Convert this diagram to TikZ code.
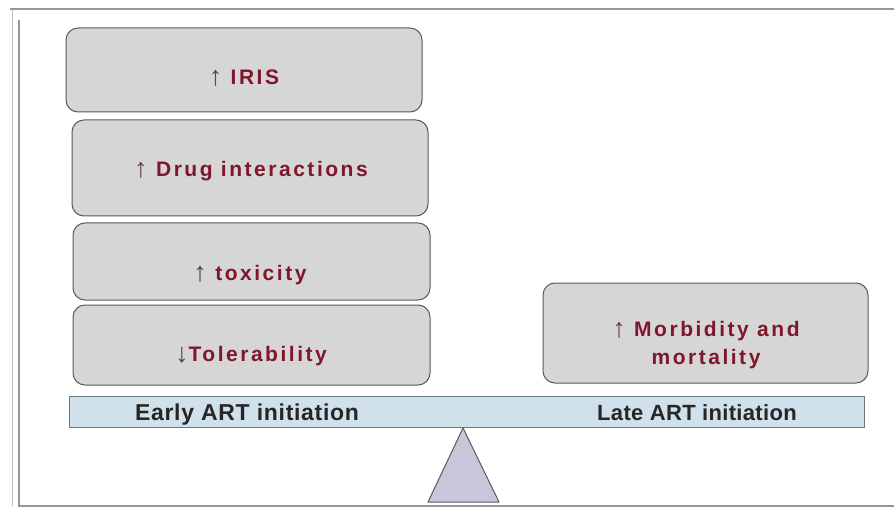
\documentclass[tikz,border=0pt]{standalone}
\usepackage{fontspec}
\setmainfont{Liberation Sans}
\newfontfamily\arrowfont{Liberation Sans}
\definecolor{txtred}{RGB}{128,22,44}
\definecolor{arrowcol}{RGB}{100,60,68}
\definecolor{boxfill}{RGB}{214,214,214}
\definecolor{boxline}{RGB}{90,90,90}
\definecolor{beamfill}{RGB}{208,225,236}
\definecolor{beamline}{RGB}{105,118,128}
\definecolor{fulcfill}{RGB}{203,197,219}
\definecolor{frameline}{RGB}{150,150,150}
\tikzset{
  gbox/.style={draw=boxline, line width=1pt, fill=boxfill, rounded corners=12pt, inner sep=0pt, rectangle},
  btxt/.style={text=txtred, font=\fontsize{21}{28}\selectfont\bfseries\addfontfeature{LetterSpace=12}, inner sep=0pt},
  beamtxt/.style={text=black!85, font=\fontsize{23}{26}\selectfont\bfseries\addfontfeature{LetterSpace=3}, inner sep=0pt, anchor=base},
}
\newcommand{\upar}{{\color{arrowcol}\arrowfont\mdseries\fontsize{27}{28}\selectfont\raisebox{-1pt}{↑}}}
\newcommand{\dnar}{{\color{arrowcol}\arrowfont\mdseries\fontsize{27}{28}\selectfont\raisebox{-1pt}{↓}}}
\begin{document}
\begin{tikzpicture}[x=1pt,y=-1pt]
\useasboundingbox (0,0) rectangle (894,513);
\fill[white] (0,0) rectangle (894,513);
% frame
\draw[frameline!60, line width=1pt] (12,10) -- (12,506);
\draw[frameline, line width=1.5pt] (10,9) -- (894,9);
\draw[frameline, line width=1.5pt] (19,20) -- (19,506) -- (894,506);
% boxes
\node[gbox, minimum width=356pt, minimum height=84pt] (iris) at (244,70) {};
\node[gbox, minimum width=356pt, minimum height=96pt] (drug) at (250,168) {};
\node[gbox, minimum width=357pt, minimum height=77pt] (tox) at (251.5,261.5) {};
\node[gbox, minimum width=357pt, minimum height=80pt] (tol) at (251.5,345) {};
\node[gbox, minimum width=325pt, minimum height=100pt] (morb) at (705.5,333) {};
% beam
\node[draw=beamline, line width=1pt, fill=beamfill, rectangle, inner sep=0pt, minimum width=795pt, minimum height=31pt] (beam) at (466.5,411.5) {};
% fulcrum
\coordinate (ftop) at (463,428);
\coordinate (fl) at (428,502);
\coordinate (fr) at (499,502);
\draw[boxline, line width=1pt, fill=fulcfill, line join=round] (ftop) -- (fl) -- (fr) -- cycle;
% texts
\node[btxt, anchor=base] (tiris) at (244,85) {\upar\ IRIS};
\node[btxt, anchor=base] (tdrug) at (251,177) {\upar\ Drug interactions};
\node[btxt, anchor=base] (ttox) at (250,280) {\upar\ toxicity};
\node[btxt, anchor=base] (ttol) at (251,361) {\dnar Tolerability};
\node[btxt, align=center, anchor=center] (tmorb) at (706,345) {\upar\ Morbidity and\\mortality};
\node[beamtxt] (early) at (247,420) {Early ART initiation};
\node[beamtxt, font=\fontsize{22}{26}\selectfont\bfseries\addfontfeature{LetterSpace=1.5}] (late) at (697,420) {Late ART initiation};
\end{tikzpicture}
\end{document}
